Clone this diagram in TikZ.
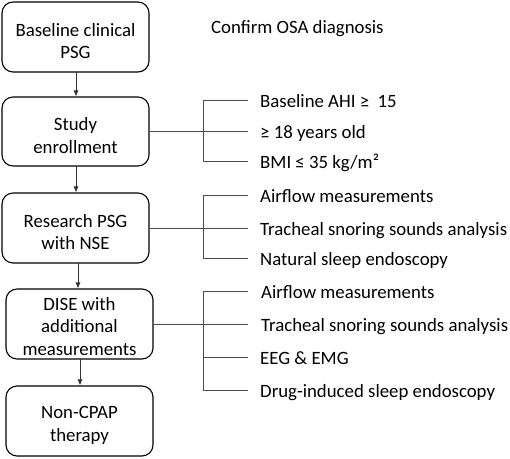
\documentclass[tikz,border=0pt]{standalone}
\usepackage{fontspec}
\setmainfont{Carlito}
\usetikzlibrary{arrows.meta}
\newcommand\boxstrut{\rule{0pt}{21pt}}
\begin{document}
\begin{tikzpicture}[x=1pt,y=-1pt,
  font=\fontsize{18.8}{22.5}\selectfont,
  stepbox/.style={draw=black,line width=1.1pt,rounded corners=11pt,align=center,inner sep=0pt},
  flowarrow/.style={draw=black!80,line width=0.8pt,-{Latex[length=6pt,width=5pt]}},
  bracketline/.style={draw=black!70,line width=0.9pt},
  item/.style={anchor=west,inner sep=0pt,text height=14pt,text depth=0pt}]
\useasboundingbox (0,0) rectangle (510,458);
% boxes
\node[stepbox,minimum width=147pt,minimum height=70pt] (b1) at (75.5,37) {\boxstrut Baseline clinical\\PSG};
\node[stepbox,minimum width=147pt,minimum height=69pt] (b2) at (75.5,131.5) {\boxstrut Study\\enrollment};
\node[stepbox,minimum width=147pt,minimum height=70pt] (b3) at (75.5,228) {\boxstrut Research PSG\\with NSE};
\node[stepbox,minimum width=147pt,minimum height=70pt] (b4) at (79.5,324) {\rule{0pt}{18pt}DISE with\\additional\\measurements};
\node[stepbox,minimum width=147pt,minimum height=70pt] (b5) at (79.5,421) {\boxstrut Non-CPAP\\therapy};
% arrows
\draw[flowarrow] (76,72) coordinate (a1s) -- (a1s |- b2.north);
\draw[flowarrow] (76,166) coordinate (a2s) -- (a2s |- b3.north);
\draw[flowarrow] (78,263) coordinate (a3s) -- (a3s |- b4.north);
\draw[flowarrow] (80,359) coordinate (a4s) -- (a4s |- b5.north);
% side texts
\node[item] (c0) at (211,26) {Confirm OSA diagnosis};
\node[item] (t1) at (260,100) {Baseline AHI ≥\ \ 15};
\node[item] (t2) at (260,131.5) {≥ 18 years old};
\node[item] (t3) at (260,161) {BMI ≤ 35 kg/m²};
\node[item] (t4) at (260,195) {Airflow measurements};
\node[item] (t5) at (260,228) {Tracheal snoring sounds analysis};
\node[item] (t6) at (260,258) {Natural sleep endoscopy};
\node[item] (t7) at (261,291) {Airflow measurements};
\node[item] (t8) at (261,324) {Tracheal snoring sounds analysis};
\node[item] (t9) at (260,357) {EEG \& EMG};
\node[item] (t10) at (260,390) {Drug-induced sleep endoscopy};
% bracket columns
\coordinate (k) at (203,0);
\coordinate (e) at (248,0);
% bracket 1
\draw[bracketline] (b2.east) -- (b2.east -| k);
\draw[bracketline] (t1.west -| e) -- (t1.west -| k) -- (t3.west -| k) -- (t3.west -| e);
\draw[bracketline] (t2.west -| k) -- (t2.west -| e);
% bracket 2
\draw[bracketline] (b3.east) -- (b3.east -| k);
\draw[bracketline] (t4.west -| e) -- (t4.west -| k) -- (t6.west -| k) -- (t6.west -| e);
\draw[bracketline] (t5.west -| k) -- (t5.west -| e);
% bracket 3
\draw[bracketline] (b4.east) -- (b4.east -| k);
\draw[bracketline] (t7.west -| e) -- (t7.west -| k) -- (t10.west -| k) -- (t10.west -| e);
\draw[bracketline] (t8.west -| k) -- (t8.west -| e);
\draw[bracketline] (t9.west -| k) -- (t9.west -| e);
\end{tikzpicture}
\end{document}
